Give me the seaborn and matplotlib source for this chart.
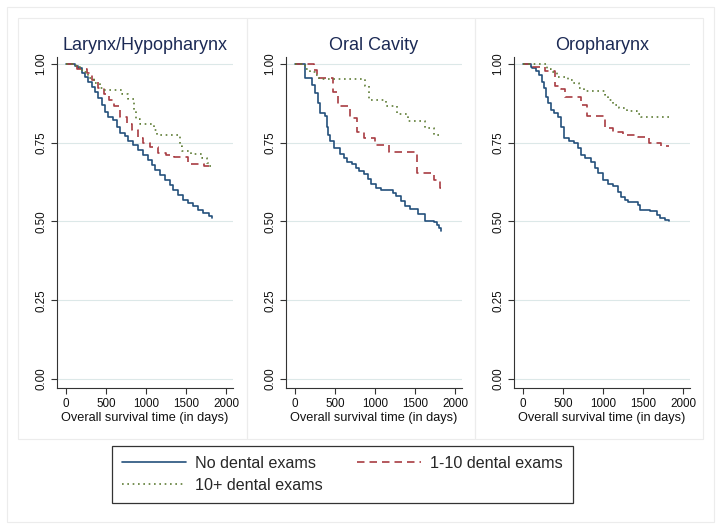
import matplotlib
matplotlib.use('Agg')
import matplotlib.pyplot as plt
from matplotlib.lines import Line2D
from matplotlib.patches import Rectangle
import seaborn as sns
import pandas as pd

# --- data (Kaplan-Meier step points: time in days, survival) ---
panel_titles = ['Larynx/Hypopharynx', 'Oral Cavity', 'Oropharynx']
groups = ['No dental exams', '1-10 dental exams', '10+ dental exams']

# Larynx/Hypopharynx
lar_none_t = [0, 112, 154, 196, 237, 279, 321, 362, 404, 446, 487, 529, 592, 633, 675, 738, 779,
              842, 904, 967, 1029, 1071, 1112, 1175, 1237, 1300, 1342, 1404, 1467, 1529, 1592,
              1654, 1717, 1790, 1822]
lar_none_s = [1.0, 0.993, 0.986, 0.970, 0.957, 0.944, 0.928, 0.912, 0.891, 0.870, 0.849, 0.833,
              0.822, 0.801, 0.780, 0.770, 0.756, 0.743, 0.727, 0.711, 0.695, 0.680, 0.664, 0.648,
              0.632, 0.616, 0.600, 0.584, 0.569, 0.558, 0.548, 0.537, 0.527, 0.517, 0.511]
lar_low_t = [0, 140, 260, 330, 400, 480, 540, 600, 680, 760, 820, 900, 960, 1050, 1150, 1250,
             1350, 1520, 1720, 1822]
lar_low_s = [1.0, 0.985, 0.970, 0.950, 0.925, 0.905, 0.885, 0.865, 0.830, 0.810, 0.790, 0.765,
             0.750, 0.735, 0.718, 0.710, 0.705, 0.683, 0.675, 0.675]
lar_high_t = [0, 130, 200, 280, 350, 430, 480, 700, 780, 850, 880, 920, 1100, 1140, 1420, 1450,
              1560, 1700, 1760, 1790, 1822]
lar_high_s = [1.0, 0.990, 0.975, 0.955, 0.940, 0.925, 0.917, 0.905, 0.890, 0.850, 0.825, 0.810,
              0.790, 0.776, 0.740, 0.725, 0.715, 0.700, 0.685, 0.675, 0.675]

# Oral Cavity
oral_none_t = [0, 131, 208, 250, 292, 314, 377, 398, 419, 441, 483, 568, 610, 653, 716, 758, 801,
               864, 907, 949, 1013, 1076, 1225, 1267, 1331, 1373, 1436, 1542, 1627, 1733, 1775,
               1800, 1828]
oral_none_s = [1.0, 0.955, 0.934, 0.907, 0.876, 0.844, 0.834, 0.800, 0.776, 0.755, 0.734, 0.713,
               0.702, 0.690, 0.681, 0.670, 0.660, 0.650, 0.634, 0.618, 0.607, 0.600, 0.590, 0.580,
               0.565, 0.550, 0.540, 0.523, 0.500, 0.497, 0.490, 0.480, 0.470]
oral_low_t = [0, 240, 280, 470, 540, 690, 770, 860, 1000, 1175, 1520, 1735, 1810, 1828]
oral_low_s = [1.0, 0.980, 0.955, 0.912, 0.867, 0.827, 0.785, 0.764, 0.743, 0.719, 0.655, 0.632,
              0.607, 0.607]
oral_high_t = [0, 120, 190, 250, 300, 870, 930, 1140, 1270, 1415, 1630, 1740, 1828]
oral_high_s = [1.0, 0.985, 0.975, 0.965, 0.953, 0.930, 0.886, 0.865, 0.840, 0.818, 0.797, 0.776,
               0.776]

# Oropharynx
oro_none_t = [0, 97, 118, 160, 202, 244, 265, 286, 307, 349, 391, 433, 475, 517, 580, 643, 685,
              727, 769, 853, 895, 937, 1000, 1063, 1126, 1189, 1231, 1273, 1315, 1441, 1462, 1588,
              1672, 1714, 1777, 1825]
oro_none_s = [1.0, 0.990, 0.986, 0.976, 0.965, 0.944, 0.923, 0.896, 0.875, 0.854, 0.844, 0.833,
              0.800, 0.764, 0.754, 0.748, 0.733, 0.711, 0.700, 0.690, 0.669, 0.653, 0.632, 0.620,
              0.611, 0.595, 0.579, 0.569, 0.563, 0.553, 0.537, 0.532, 0.521, 0.511, 0.505, 0.503]
oro_low_t = [0, 110, 270, 400, 470, 520, 720, 800, 1020, 1120, 1250, 1440, 1580, 1730, 1825]
oro_low_s = [1.0, 0.990, 0.976, 0.930, 0.920, 0.895, 0.870, 0.835, 0.796, 0.785, 0.776, 0.768,
             0.750, 0.741, 0.741]
oro_high_t = [0, 300, 350, 420, 560, 620, 700, 760, 1020, 1060, 1120, 1200, 1300, 1420, 1480, 1825]
oro_high_s = [1.0, 0.985, 0.975, 0.960, 0.950, 0.940, 0.925, 0.915, 0.900, 0.885, 0.870, 0.860,
              0.850, 0.840, 0.830, 0.830]

x_ticks = [0, 500, 1000, 1500, 2000]
y_ticks = [0.0, 0.25, 0.5, 0.75, 1.0]
y_tick_labels = ['0.00', '0.25', '0.50', '0.75', '1.00']
x_label = 'Overall survival time (in days)'

panels = [
    [(lar_none_t, lar_none_s), (lar_low_t, lar_low_s), (lar_high_t, lar_high_s)],
    [(oral_none_t, oral_none_s), (oral_low_t, oral_low_s), (oral_high_t, oral_high_s)],
    [(oro_none_t, oro_none_s), (oro_low_t, oro_low_s), (oro_high_t, oro_high_s)],
]

# --- styling ---
sns.set_theme(style='white')
plt.rcParams['font.family'] = ['Liberation Sans', 'DejaVu Sans']

colors = {'No dental exams': '#24507c', '1-10 dental exams': '#a83c42', '10+ dental exams': '#5f7d36'}
dashes = {'No dental exams': '', '1-10 dental exams': (4.5, 3.0), '10+ dental exams': (1.0, 2.2)}
title_color = '#1c2a55'
grid_color = '#dce8e8'
frame_color = '#ececec'

fig = plt.figure(figsize=(7.24, 5.31), dpi=100)
W, H = 724.0, 531.0

# light frames like a combined Stata graph
fig.patches.append(Rectangle((7 / W, 1 - 522 / H), 707 / W, 515 / H, transform=fig.transFigure,
                             fill=False, edgecolor=frame_color, linewidth=0.8))
for fx0, fx1 in [(18, 247), (247, 475), (475, 703)]:
    fig.patches.append(Rectangle((fx0 / W, 1 - 439 / H), (fx1 - fx0) / W, 421 / H,
                                 transform=fig.transFigure, fill=False,
                                 edgecolor=frame_color, linewidth=0.8))

ax_lefts = [57, 286, 514]
ax_w, ax_top, ax_bot = 176, 57, 388

for i, (title, curves) in enumerate(zip(panel_titles, panels)):
    ax = fig.add_axes([ax_lefts[i] / W, 1 - ax_bot / H, ax_w / W, (ax_bot - ax_top) / H])
    rows = []
    for g, (t, s) in zip(groups, curves):
        rows.append(pd.DataFrame({'time': t, 'surv': s, 'group': g}))
    df = pd.concat(rows, ignore_index=True)

    for y in y_ticks:
        ax.axhline(y, color=grid_color, lw=0.8, zorder=0)

    sns.lineplot(data=df, x='time', y='surv', hue='group', style='group',
                 hue_order=groups, style_order=groups, palette=colors, dashes=dashes,
                 drawstyle='steps-post', estimator=None, sort=False, linewidth=1.2,
                 legend=False, ax=ax)

    ax.set_xlim(-112, 2087)
    ax.set_ylim(-0.0286, 1.022)
    ax.set_xticks(x_ticks)
    ax.set_xticklabels([str(v) for v in x_ticks])
    ax.set_yticks(y_ticks)
    ax.set_yticklabels(y_tick_labels, rotation=90, va='center')
    ax.tick_params(axis='both', direction='out', length=4, width=0.8, color='#333333',
                   labelsize=8.4, labelcolor='#111111', pad=3, left=True, bottom=True)
    ax.set_xlabel(x_label, fontsize=9.2, color='#111111', labelpad=2)
    ax.set_ylabel('')
    ax.set_title(title, fontsize=13, color=title_color, pad=5)
    for side in ['top', 'right']:
        ax.spines[side].set_visible(False)
    for side in ['left', 'bottom']:
        ax.spines[side].set_color('#333333')
        ax.spines[side].set_linewidth(0.8)
    ax.set_facecolor('white')
    ax.grid(False)

handles = [Line2D([], [], color=colors[g], lw=1.2,
                  dashes=dashes[g] if dashes[g] else (None, None)) for g in groups]
order = [0, 2, 1]
leg = fig.legend([handles[k] for k in order], [groups[k] for k in order], ncol=2,
                 loc='upper left', bbox_to_anchor=(112 / W, 1 - 446 / H),
                 fontsize=11.6, handlelength=4.0, handletextpad=0.56, columnspacing=2.1,
                 labelspacing=0.45, borderpad=0.6, borderaxespad=0, fancybox=False,
                 frameon=True, framealpha=1)
leg.get_frame().set_edgecolor('#333333')
leg.get_frame().set_linewidth(0.9)

fig.savefig('out.png', dpi=100, facecolor='white')
